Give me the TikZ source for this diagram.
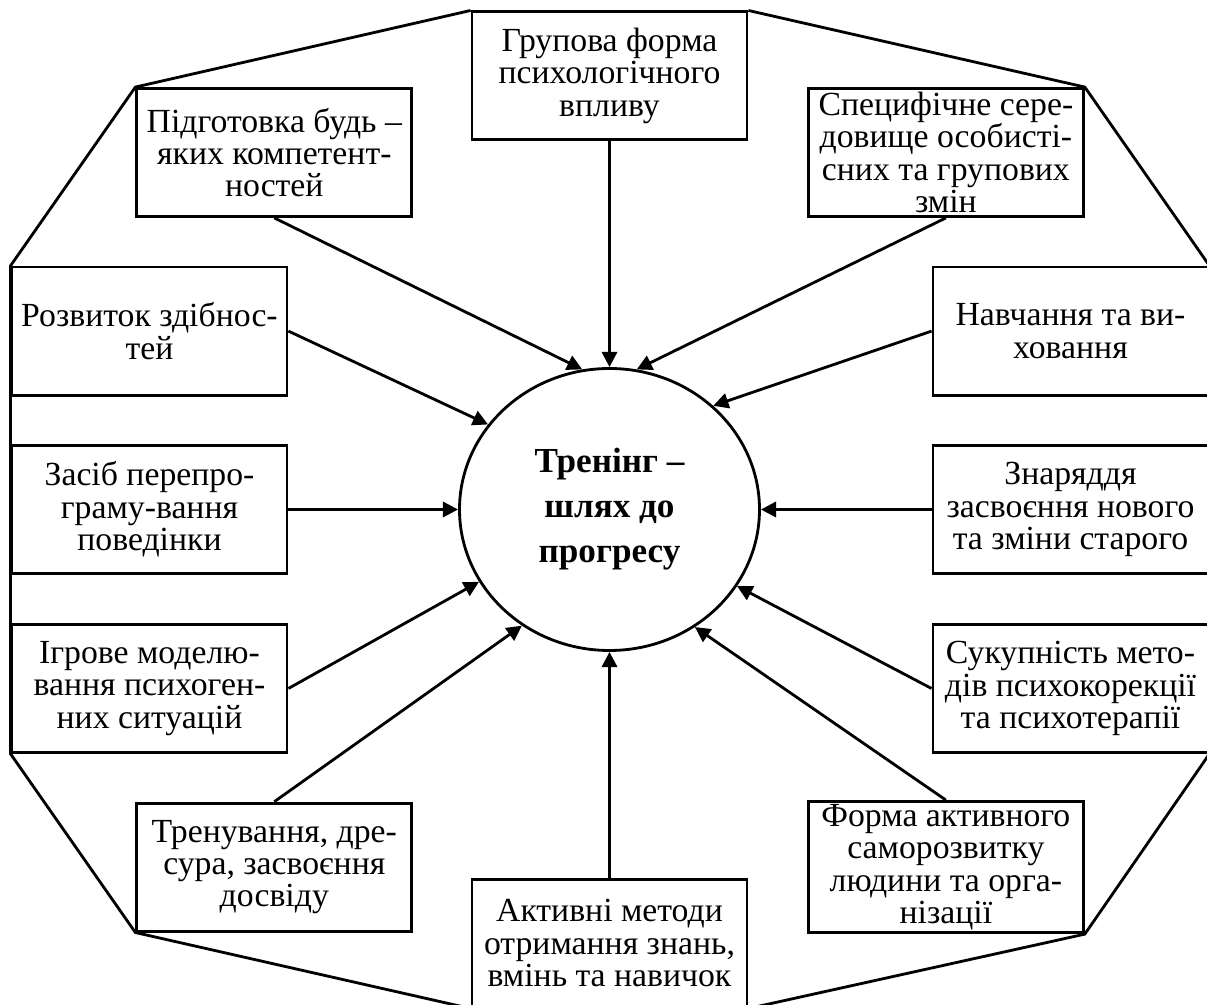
\documentclass[tikz,border=0pt]{standalone}
\usepackage{fontspec}
\setmainfont{Liberation Serif}
\usetikzlibrary{arrows.meta,shapes.geometric}

\begin{document}
\begin{tikzpicture}[
	block/.style={draw, line width=2pt, minimum width=6.875cm, minimum height=3.2cm, inner sep=2pt, align=center, font=\fontsize{24}{23}\selectfont},
	hub/.style={draw, ellipse, line width=2pt, minimum width=7.5cm, minimum height=7.05cm, align=center, font=\bfseries\fontsize{25}{32}\selectfont},
	arr/.style={line width=2pt, -{Triangle[length=3.8mm,width=3.8mm]}}
	]
			\useasboundingbox (-15.2375,-12.3875) rectangle (14.9375,12.7375);
			
			\node	(c) at (0,0) [hub] {Тренінг –\\шлях до\\прогресу};
			
			\node	(t) at (0,10.84) [block] {Групова форма\\психологічного\\впливу};
			\node	(tl) at (-8.38,8.925) [block] {Підготовка будь –\\яких компетент-\\ностей};
			\node	(tr) at (8.41,8.925) [block] {Специфічне сере-\\довище особисті-\\сних та групових\\змін};
			\node	(l1) at (-11.5,4.46) [block] {Розвиток здібнос-\\тей};
			\node	(r1) at (11.525,4.46) [block] {Навчання та ви-\\ховання};
			\node	(l2) at (-11.5,0) [block] {Засіб перепро-\\граму-вання\\поведінки};
			\node	(r2) at (11.525,0) [block] {Знаряддя\\засвоєння нового\\та зміни старого};
			\node	(l3) at (-11.5,-4.475) [block] {Ігрове моделю-\\вання психоген-\\них ситуацій};
			\node	(r3) at (11.525,-4.475) [block] {Сукупність мето-\\дів психокорекції\\та психотерапії};
			\node	(bl) at (-8.38,-8.94) [block] {Тренування, дре-\\сура, засвоєння\\досвіду};
			\node	(br) at (8.41,-8.94) [block] {Форма активного\\саморозвитку\\людини та орга-\\нізації};
			\node	(b) at (0,-10.84) [block] {Активні методи\\отримання знань,\\вмінь та навичок};
			
			% frame round the boxes
			\draw[line width=2pt] (t.north west) -- (tl.north west) -- (l1.north west) -- (l3.south west)
			-- (bl.south west) -- (b.south west) -- (b.south east) -- (br.south east)
			-- (r3.south east) -- (r1.north east) -- (tr.north east) -- (t.north east);
			
			\draw 
			(t.south) edge[arr] (c.north)
			(tl.south) edge[arr] (c.101)
			(tr.south) edge[arr] (c.79)
			(l1.east) edge[arr] (c.145)
			(r1.west) edge[arr] (c.45)
			(l2.east) edge[arr] (c.west)
			(r2.west) edge[arr] (c.east)
			(l3.east) edge[arr] (c.209)
			(r3.west) edge[arr] (c.329)
			(bl.north) edge[arr] (c.233)
			(br.north) edge[arr] (c.306)
			(b.north) edge[arr] (c.south)
			;
		\end{tikzpicture}
\end{document}
